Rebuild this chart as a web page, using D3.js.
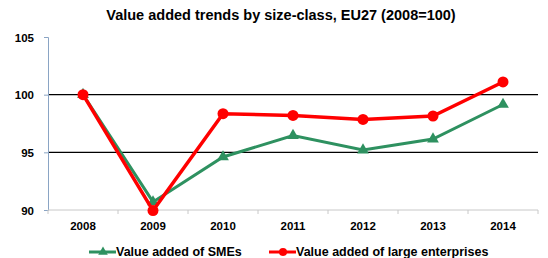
<!DOCTYPE html>
<html>
<head>
<meta charset="utf-8">
<script src="https://cdn.jsdelivr.net/npm/d3@7"></script>
<style>
  body { margin: 0; background: #fff; }
  text { font-family: "Liberation Sans", Arial, sans-serif; }
</style>
</head>
<body>
<div id="chart"></div>
<script>
// Value added trends by size-class, EU27 (2008=100)
const years = ["2008", "2009", "2010", "2011", "2012", "2013", "2014"];
const smeValues = [100, 90.7, 94.6, 96.45, 95.2, 96.15, 99.15];
const largeValues = [100, 89.95, 98.35, 98.2, 97.85, 98.15, 101.1];
const yTicks = [90, 95, 100, 105];
const gridValues = [95, 100];

const width = 548;
const height = 258;
const margin = { top: 37, right: 10, bottom: 48, left: 48 };

const svg = d3.select("#chart").append("svg")
    .attr("width", width)
    .attr("height", height);

const x = d3.scaleBand()
    .domain(years)
    .range([margin.left, width - margin.right]);

const y = d3.scaleLinear()
    .domain([90, 105])
    .range([height - margin.bottom, margin.top]);

svg.append("text")
    .attr("x", 281)
    .attr("y", 20)
    .attr("text-anchor", "middle")
    .style("font-size", "14.5px")
    .style("font-weight", "bold")
    .text("Value added trends by size-class, EU27 (2008=100)");

// gridlines
svg.selectAll("line.grid")
    .data(gridValues)
    .join("line")
    .attr("class", "grid")
    .attr("x1", margin.left)
    .attr("x2", width - margin.right)
    .attr("y1", d => y(d))
    .attr("y2", d => y(d))
    .attr("stroke", "#000")
    .attr("stroke-width", 1.2);

// y axis
const yAxis = svg.append("g")
    .attr("transform", `translate(${margin.left},0)`)
    .call(d3.axisLeft(y).tickValues(yTicks).tickSize(4).tickPadding(10));
yAxis.select(".domain").attr("stroke", "#8aa4c4");
yAxis.selectAll(".tick line").attr("stroke", "#8aa4c4");
yAxis.selectAll("text")
    .style("font-size", "11.5px")
    .style("font-weight", "bold")
    .attr("fill", "#000")
    .attr("dy", "0.35em");

// x axis with ticks at band boundaries
const xAxis = svg.append("g")
    .attr("transform", `translate(0,${height - margin.bottom})`);
xAxis.append("line")
    .attr("x1", margin.left)
    .attr("x2", width - margin.right)
    .attr("stroke", "#c8c8c8");
xAxis.selectAll("line.tk")
    .data(d3.range(years.length + 1))
    .join("line")
    .attr("class", "tk")
    .attr("x1", i => margin.left + i * x.step())
    .attr("x2", i => margin.left + i * x.step())
    .attr("y1", 0)
    .attr("y2", 4)
    .attr("stroke", "#c8c8c8");
xAxis.selectAll("text")
    .data(years)
    .join("text")
    .attr("x", d => x(d) + x.bandwidth() / 2)
    .attr("y", 20)
    .attr("text-anchor", "middle")
    .style("font-size", "11.5px")
    .style("font-weight", "bold")
    .text(d => d);

const line = d3.line()
    .x((d, i) => x(years[i]) + x.bandwidth() / 2)
    .y(d => y(d));

const green = "#2e9160";
const red = "#ff0000";

svg.append("path")
    .datum(smeValues)
    .attr("fill", "none")
    .attr("stroke", green)
    .attr("stroke-width", 3)
    .attr("d", line);

svg.selectAll("path.tri")
    .data(smeValues)
    .join("path")
    .attr("class", "tri")
    .attr("transform", (d, i) => `translate(${x(years[i]) + x.bandwidth() / 2},${y(d)})`)
    .attr("d", d3.symbol(d3.symbolTriangle, 60))
    .attr("fill", green);

svg.append("path")
    .datum(largeValues)
    .attr("fill", "none")
    .attr("stroke", red)
    .attr("stroke-width", 3.5)
    .attr("d", line);

svg.selectAll("circle.dot")
    .data(largeValues)
    .join("circle")
    .attr("class", "dot")
    .attr("cx", (d, i) => x(years[i]) + x.bandwidth() / 2)
    .attr("cy", d => y(d))
    .attr("r", 5.5)
    .attr("fill", red);

// legend
const legend = [
    { name: "Value added of SMEs", color: green, shape: "tri", x: 89 },
    { name: "Value added of large enterprises", color: red, shape: "dot", x: 269 }
];
const lg = svg.selectAll("g.legend")
    .data(legend)
    .join("g")
    .attr("class", "legend")
    .attr("transform", d => `translate(${d.x},252)`);
lg.append("line")
    .attr("x1", 0).attr("x2", 27)
    .attr("stroke", d => d.color)
    .attr("stroke-width", 3);
lg.filter(d => d.shape === "tri").append("path")
    .attr("transform", "translate(14,0)")
    .attr("d", d3.symbol(d3.symbolTriangle, 40))
    .attr("fill", d => d.color);
lg.filter(d => d.shape === "dot").append("circle")
    .attr("cx", 14).attr("r", 4)
    .attr("fill", d => d.color);
lg.append("text")
    .attr("x", 27)
    .attr("dy", "0.35em")
    .style("font-size", "12.5px")
    .style("font-weight", "bold")
    .text(d => d.name);
</script>
</body>
</html>
